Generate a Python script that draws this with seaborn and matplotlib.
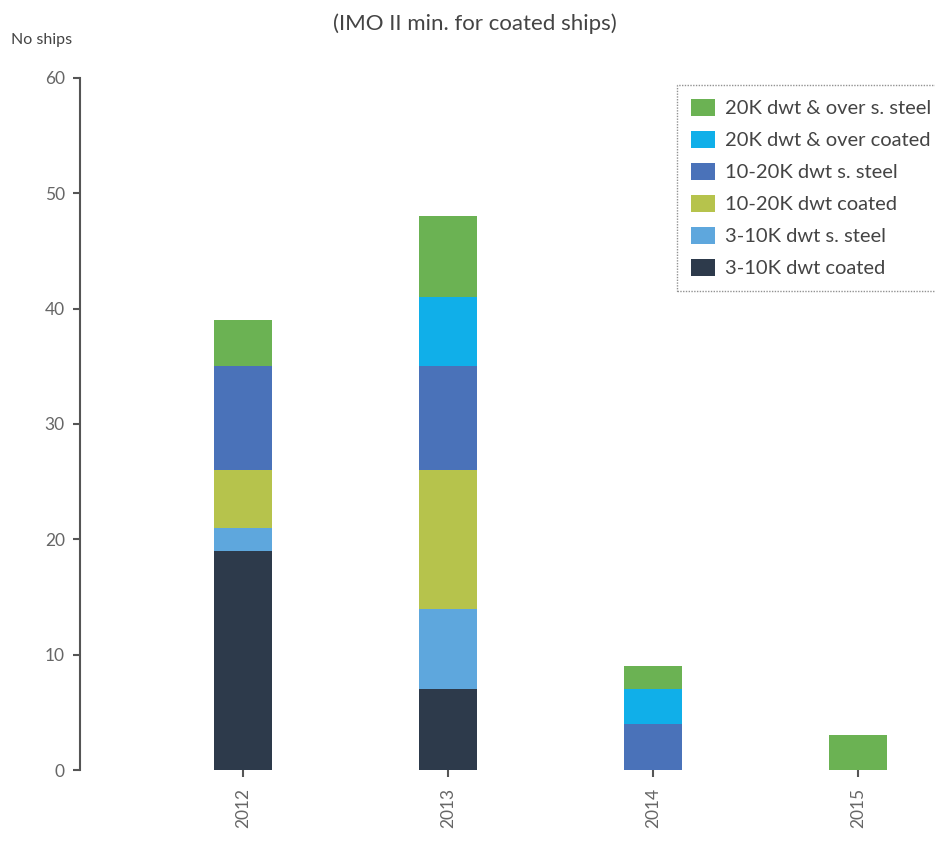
import matplotlib
matplotlib.use("Agg")
import matplotlib.pyplot as plt
import seaborn as sns
import numpy as np
import pandas as pd

years = ["2012", "2013", "2014", "2015"]
series_names = [
    "3-10K dwt coated",
    "3-10K dwt s. steel",
    "10-20K dwt coated",
    "10-20K dwt s. steel",
    "20K dwt & over coated",
    "20K dwt & over s. steel",
]
coated_3_10 = [19, 7, 0, 0]
steel_3_10 = [2, 7, 0, 0]
coated_10_20 = [5, 12, 0, 0]
steel_10_20 = [9, 9, 4, 0]
coated_20_plus = [0, 6, 3, 0]
steel_20_plus = [4, 7, 2, 3]
series_values = [coated_3_10, steel_3_10, coated_10_20, steel_10_20,
                 coated_20_plus, steel_20_plus]
colors = ["#2d3a4b", "#5ea7dd", "#b6c34c", "#4a72b9", "#10afe9", "#6bb253"]

sns.set_theme(style="white")
plt.rcParams["font.family"] = ["Lato", "DejaVu Sans"]

fig = plt.figure(figsize=(9.35, 8.52), dpi=100)
ax = fig.add_axes([0.0856, 0.0962, 0.9144, 0.8123])

bottom = np.zeros(len(years))
for name, vals, col in zip(series_names, series_values, colors):
    df = pd.DataFrame({"year": years, "n": vals})
    sns.barplot(data=df, x="year", y="n", color=col, width=0.28,
                bottom=bottom.copy(), ax=ax, label=name, saturation=1,
                edgecolor="none", linewidth=0)
    bottom += np.array(vals)

ax.set_ylim(0, 60)
ax.set_xlim(-0.795, 3.375)
ax.set_yticks([0, 10, 20, 30, 40, 50, 60])
ax.set_xlabel("")
ax.set_ylabel("")
for s in ["top", "right", "bottom"]:
    ax.spines[s].set_visible(False)
ax.spines["left"].set_color("#555555")
ax.spines["left"].set_linewidth(1.5)
ax.tick_params(axis="y", left=True, length=5, width=1.5, color="#555555",
               labelsize=12.5, labelcolor="#666666", pad=6)
ax.tick_params(axis="x", bottom=True, length=5, width=1.5, color="#555555",
               labelsize=12.5, labelcolor="#666666", pad=8)
plt.setp(ax.get_xticklabels(), rotation=90)

handles, labels = ax.get_legend_handles_labels()
leg = ax.legend(handles[::-1], labels[::-1], loc="upper right",
                bbox_to_anchor=(1.012, 0.99), borderaxespad=0,
                fontsize=14.5, frameon=True,
                handlelength=1.2, handleheight=0.9, handletextpad=0.5,
                labelspacing=0.68, borderpad=0.7, fancybox=False)
leg.get_frame().set_edgecolor("#777777")
leg.get_frame().set_linestyle((0, (1, 1)))
leg.get_frame().set_linewidth(1.0)
for t in leg.get_texts():
    t.set_color("#444444")

fig.text(0.508, 0.972, "(IMO II min. for coated ships)", ha="center",
         va="center", fontsize=16, color="#444444")
fig.text(0.012, 0.953, "No ships", ha="left", va="center", fontsize=11.5,
         color="#444444")

fig.savefig("out.png", dpi=100)
